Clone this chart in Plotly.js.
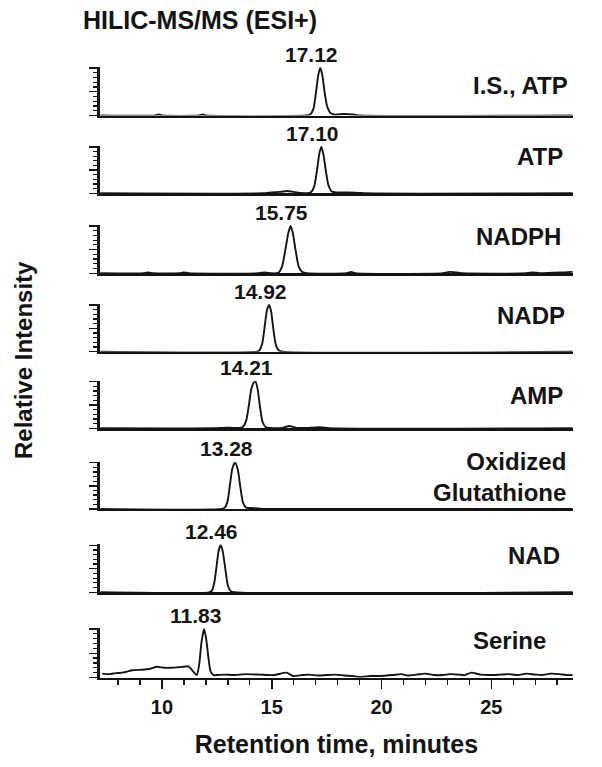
<!DOCTYPE html>
<html>
<head>
<meta charset="utf-8">
<script src="https://cdn.plot.ly/plotly-3.0.1.min.js"></script>
<style>
  html, body { margin: 0; padding: 0; background: #fff; }
  #chart { width: 602px; height: 767px; }
</style>
</head>
<body>
<div id="chart"></div>
<script>
// compound names (top to bottom) and the retention times printed above each peak
const compounds = ["I.S., ATP", "ATP", "NADPH", "NADP", "AMP", "Oxidized<br>Glutathione", "NAD", "Serine"];
const peakLabels = ["17.12", "17.10", "15.75", "14.92", "14.21", "13.28", "12.46", "11.83"];
// where the apex sits on the drawn time axis
const peakApex = [17.21, 17.26, 15.86, 14.88, 14.26, 13.33, 12.68, 11.92];

const xTicks = [10, 15, 20, 25];

// traces: time (min) / relative signal
const isAtpTime = [7.2, 9.7, 9.85, 10.0, 11.7, 11.85, 12.0, 16.55, 16.75, 16.9, 17.02, 17.12, 17.21, 17.3, 17.4, 17.52, 17.68, 17.85, 18.3, 18.7, 19.0, 28.7];
const isAtpSignal = [0, 0, 0.02, 0, 0, 0.02, 0, 0, 0.02, 0.14, 0.5, 0.85, 1.0, 0.86, 0.52, 0.2, 0.05, 0.02, 0.03, 0.02, 0, 0];

const atpTime = [7.2, 14.6, 15.0, 15.4, 15.7, 16.0, 16.3, 16.6, 16.78, 16.93, 17.07, 17.17, 17.26, 17.35, 17.46, 17.58, 17.74, 17.92, 18.5, 19.0, 19.2, 28.7];
const atpSignal = [0, 0, 0.02, 0.03, 0.05, 0.03, 0.01, 0, 0.02, 0.14, 0.52, 0.86, 1.0, 0.85, 0.5, 0.18, 0.04, 0.02, 0.02, 0.01, 0, 0];

const nadphTime = [7.2, 9.2, 9.4, 9.6, 10.8, 11.0, 11.2, 14.4, 14.7, 15.0, 15.3, 15.47, 15.63, 15.76, 15.86, 15.96, 16.09, 16.23, 16.38, 16.6, 18.4, 18.6, 18.8, 22.8, 23.1, 23.4, 23.7, 26.6, 26.9, 27.2, 28.3, 28.7];
const nadphSignal = [0, 0, 0.02, 0, 0, 0.02, 0, 0, 0.02, 0, 0.01, 0.14, 0.52, 0.86, 1.0, 0.85, 0.48, 0.14, 0.03, 0, 0, 0.03, 0, 0, 0.03, 0.02, 0, 0, 0.02, 0, 0.02, 0.03];

const nadpTime = [7.2, 14.3, 14.44, 14.57, 14.69, 14.79, 14.88, 14.97, 15.07, 15.19, 15.32, 15.5, 28.7];
const nadpSignal = [0, 0, 0.03, 0.18, 0.58, 0.9, 1.0, 0.87, 0.5, 0.14, 0.03, 0, 0];

const ampTime = [7.2, 12.4, 12.8, 13.2, 13.5, 13.68, 13.84, 13.97, 14.07, 14.17, 14.26, 14.35, 14.46, 14.58, 14.72, 14.9, 15.5, 15.8, 16.1, 16.6, 17.0, 17.3, 17.6, 28.7];
const ampSignal = [0, 0, 0.01, 0.01, 0.01, 0.03, 0.17, 0.53, 0.84, 0.97, 1.0, 0.86, 0.48, 0.14, 0.03, 0.01, 0.01, 0.05, 0.01, 0.01, 0.02, 0.02, 0, 0];

const gssgTime = [7.2, 12.7, 12.86, 12.99, 13.1, 13.21, 13.33, 13.45, 13.57, 13.69, 13.83, 14.0, 14.4, 14.6, 28.7];
const gssgSignal = [0, 0, 0.03, 0.17, 0.53, 0.88, 1.0, 0.86, 0.48, 0.14, 0.03, 0.02, 0.01, 0, 0];

const nadTime = [7.2, 12.15, 12.27, 12.39, 12.5, 12.59, 12.68, 12.77, 12.88, 13.0, 13.12, 13.3, 28.7];
const nadSignal = [0, 0, 0.03, 0.22, 0.6, 0.9, 1.0, 0.87, 0.52, 0.15, 0.03, 0, 0];

const serineTime = [7.28, 7.6, 7.9, 8.2, 8.41, 8.64, 9.1, 9.47, 9.77, 10.1, 10.38, 10.7, 10.98, 11.21, 11.43, 11.59, 11.7, 11.8, 11.92, 12.02, 12.12, 12.22, 12.35, 12.5, 12.9, 13.25, 13.8, 14.46, 15.1, 15.67, 15.97, 16.4, 16.7, 17.1, 17.49, 17.9, 18.3, 18.7, 19.0, 19.5, 19.9, 20.5, 20.9, 21.2, 21.6, 22.0, 22.4, 22.8, 23.1, 23.5, 23.8, 24.1, 24.5, 25.0, 25.4, 25.8, 26.2, 26.6, 27.0, 27.3, 27.7, 28.1, 28.4, 28.7];
const serineSignal = [0.08, 0.07, 0.09, 0.1, 0.12, 0.15, 0.16, 0.18, 0.22, 0.2, 0.2, 0.21, 0.22, 0.23, 0.12, 0.05, 0.28, 0.72, 1.0, 0.78, 0.4, 0.12, 0.05, 0.05, 0.06, 0.05, 0.07, 0.06, 0.05, 0.1, 0.03, 0.05, 0.06, 0.04, 0.05, 0.06, 0.04, 0.03, 0.01, 0.03, 0.03, 0.05, 0.07, 0.04, 0.06, 0.08, 0.05, 0.05, 0.07, 0.06, 0.05, 0.1, 0.06, 0.05, 0.06, 0.07, 0.05, 0.08, 0.06, 0.05, 0.08, 0.07, 0.05, 0.05];

const traceTimes = [isAtpTime, atpTime, nadphTime, nadpTime, ampTime, gssgTime, nadTime, serineTime];
const traceSignals = [isAtpSignal, atpSignal, nadphSignal, nadpSignal, ampSignal, gssgSignal, nadSignal, serineSignal];

// page geometry (pixels)
const W = 602, H = 767;
const M = { l: 100, r: 29, t: 60, b: 89 };
const plotW = W - M.l - M.r;
const plotH = H - M.t - M.b;
const panelTopPx = [67, 146, 225, 304, 380.7, 461.7, 544.3, 628];
const panelBasePx = [115.5, 193.3, 273.3, 351.7, 428.3, 509, 592.3, 677.5];
const nameDropPx = [18, 10.7, 11, 11, 15, 15, 10.7, 12];
const nameRightPx = [570, 565, 563, 567, 565, 568, 562, 548];

const INK = "#141414";
const FONT = "Liberation Sans, Arial, sans-serif";

function toDomainY(px) {
  return (H - M.b - px) / plotH;
}

function axisKey(prefix, i) {
  return i === 0 ? prefix + "axis" : prefix + "axis" + (i + 1);
}

function axisRef(prefix, i) {
  return i === 0 ? prefix : prefix + (i + 1);
}

const traces = traceTimes.map((t, i) => ({
  type: "scatter",
  mode: "lines",
  x: t,
  y: traceSignals[i],
  xaxis: axisRef("x", i),
  yaxis: axisRef("y", i),
  line: { color: INK, width: 1.9, shape: "spline", smoothing: 0.6 },
  hoverinfo: "skip",
  showlegend: false
}));

const layout = {
  width: W,
  height: H,
  margin: M,
  paper_bgcolor: "#ffffff",
  plot_bgcolor: "#ffffff",
  font: { family: FONT, color: INK, size: 20, weight: 700 },
  showlegend: false,
  title: {
    text: "HILIC-MS/MS (ESI+)",
    font: { family: FONT, size: 25, color: INK, weight: 700 },
    xref: "container",
    yref: "container",
    x: 83 / W,
    xanchor: "left",
    y: 1 - 20 / H,
    yanchor: "middle"
  },
  annotations: []
};

const last = compounds.length - 1;

compounds.forEach((name, i) => {
  const isBottom = i === last;

  layout[axisKey("x", i)] = {
    domain: [0, 1],
    range: [7.18, 28.72],
    anchor: axisRef("y", i),
    matches: i === 0 ? undefined : "x",
    showline: true,
    linecolor: INK,
    linewidth: 2.3,
    showgrid: false,
    zeroline: false,
    fixedrange: true,
    ticks: isBottom ? "outside" : "",
    tickmode: "array",
    tickvals: isBottom ? xTicks : [],
    ticklen: 9,
    tickwidth: 1.6,
    tickcolor: INK,
    showticklabels: isBottom,
    ticklabelstandoff: 1,
    tickfont: { family: FONT, size: 20, color: INK, weight: 700 },
    minor: isBottom
      ? { ticks: "outside", dtick: 1, tick0: 0, ticklen: 5, tickwidth: 1.4, tickcolor: INK }
      : undefined,
    title: isBottom
      ? { text: "Retention time, minutes", standoff: 19, font: { family: FONT, size: 25, color: INK, weight: 700 } }
      : undefined
  };

  layout[axisKey("y", i)] = {
    domain: [toDomainY(panelBasePx[i]), toDomainY(panelTopPx[i])],
    range: [0, 1.02],
    anchor: axisRef("x", i),
    showline: true,
    linecolor: INK,
    linewidth: 3,
    showgrid: false,
    zeroline: false,
    fixedrange: true,
    showticklabels: false,
    ticks: "outside",
    tickmode: "linear",
    tick0: 0,
    dtick: 0.5,
    ticklen: 8,
    tickwidth: 1.4,
    tickcolor: INK,
    minor: { ticks: "outside", dtick: 0.1, tick0: 0, ticklen: 4, tickwidth: 1.2, tickcolor: INK }
  };

  // retention time above the peak
  layout.annotations.push({
    text: peakLabels[i],
    x: peakApex[i],
    xref: axisRef("x", i),
    y: 1,
    yref: axisRef("y", i) + " domain",
    xanchor: "center",
    yanchor: "middle",
    xshift: -9,
    yshift: 13,
    showarrow: false,
    font: { family: FONT, size: 21, color: INK, weight: 700 }
  });

  // compound name on the right
  layout.annotations.push({
    text: name,
    x: (nameRightPx[i] - M.l) / plotW,
    xref: "paper",
    y: 1,
    yref: axisRef("y", i) + " domain",
    xanchor: "right",
    yanchor: "middle",
    align: "right",
    yshift: -nameDropPx[i],
    showarrow: false,
    font: { family: FONT, size: 24, color: INK, weight: 700 }
  });
});

layout.annotations.push({
  text: "Relative Intensity",
  textangle: -90,
  x: (23 - M.l) / plotW,
  xref: "paper",
  xanchor: "center",
  y: toDomainY(360),
  yref: "paper",
  yanchor: "middle",
  showarrow: false,
  font: { family: FONT, size: 24, color: INK, weight: 700 }
});

Plotly.newPlot("chart", traces, layout, { staticPlot: true, displayModeBar: false });
</script>
</body>
</html>
